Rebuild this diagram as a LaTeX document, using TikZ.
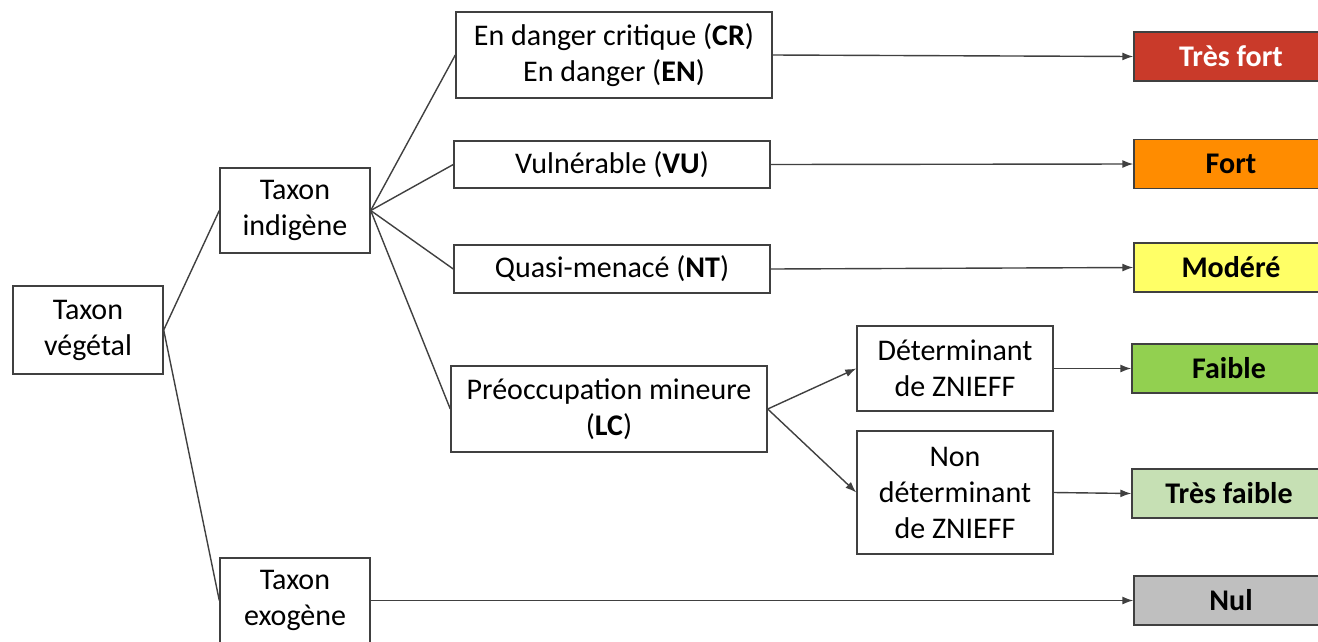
\documentclass[tikz,border=0pt]{standalone}
\usepackage{fontspec}
\setmainfont{Carlito}
\usetikzlibrary{arrows.meta}
\definecolor{tresfort}{RGB}{201,58,42}
\definecolor{fort}{RGB}{255,140,0}
\definecolor{modere}{RGB}{255,255,102}
\definecolor{faible}{RGB}{146,208,80}
\definecolor{tresfaible}{RGB}{198,224,180}
\definecolor{nul}{RGB}{191,191,191}
\definecolor{trait}{RGB}{64,64,64}
\begin{document}
\begin{tikzpicture}[x=1pt, y=-1pt,
    font=\fontsize{30}{36}\selectfont,
    box/.style={draw=trait, line width=1.4pt, fill=white, align=center, inner sep=0pt},
    niveau/.style={draw=trait, line width=1.4pt, minimum width=194pt, minimum height=49pt, inner sep=0pt, font=\fontsize{30}{36}\selectfont\bfseries},
    lien/.style={trait, line width=1.4pt},
    fleche/.style={lien, -{Latex[length=11pt, width=8pt]}}]
  \clip (0,0) rectangle (1318,641);
  \fill[white] (0,0) rectangle (1318,641);
  % arbre de gauche
  \node[box, minimum width=150pt, minimum height=88pt] (vegetal) at (88,330) {Taxon\\végétal};
  \node[box, minimum width=150pt, minimum height=85pt] (indigene) at (295,210.5) {Taxon\\indigène};
  \node[box, minimum width=150pt, minimum height=85pt] (exogene) at (295,600.5) {Taxon\\exogène};
  % statuts
  \node[box, minimum width=316pt, minimum height=86pt] (cr) at (614,55) {En danger critique (\textbf{CR})\\En danger (\textbf{EN})};
  \node[box, minimum width=316pt, minimum height=47pt] (vu) at (612,164.5) {Vulnérable (\textbf{VU})};
  \node[box, minimum width=316pt, minimum height=48pt] (nt) at (612,269) {Quasi-menacé (\textbf{NT})};
  \node[box, minimum width=316pt, minimum height=86pt] (lc) at (609,409) {Préoccupation mineure\\(\textbf{LC})};
  \node[box, minimum width=196pt, minimum height=85pt] (det) at (955,368.5) {Déterminant\\de ZNIEFF};
  \node[box, minimum width=196pt, minimum height=123pt] (nondet) at (955,492.5) {Non\\déterminant\\de ZNIEFF};
  % enjeux
  \node[niveau, fill=tresfort, text=white] (n1) at (1231,56.5) {Très fort};
  \node[niveau, fill=fort] (n2) at (1231,164) {Fort};
  \node[niveau, fill=modere] (n3) at (1231,267.5) {Modéré};
  \node[niveau, fill=faible] (n4) at (1229,368.5) {Faible};
  \node[niveau, fill=tresfaible] (n5) at (1229,493.5) {Très faible};
  \node[niveau, fill=nul] (n6) at (1231,600.5) {Nul};
  % liens
  \draw[lien] (vegetal.east) -- (indigene.west);
  \draw[lien] (vegetal.east) -- (exogene.west);
  \foreach \s in {cr, vu, nt, lc}
    \draw[lien] (indigene.east) -- (\s.west);
  \draw[fleche] (cr.east) -- (n1.west);
  \draw[fleche] (vu.east) -- (n2.west);
  \draw[fleche] (nt.east) -- (n3.west);
  \draw[fleche] (lc.east) -- (det.west);
  \draw[fleche] (lc.east) -- (nondet.west);
  \draw[fleche] (det.east) -- (n4.west);
  \draw[fleche] (nondet.east) -- (n5.west);
  \draw[fleche] (exogene.east) -- (n6.west);
\end{tikzpicture}
\end{document}
